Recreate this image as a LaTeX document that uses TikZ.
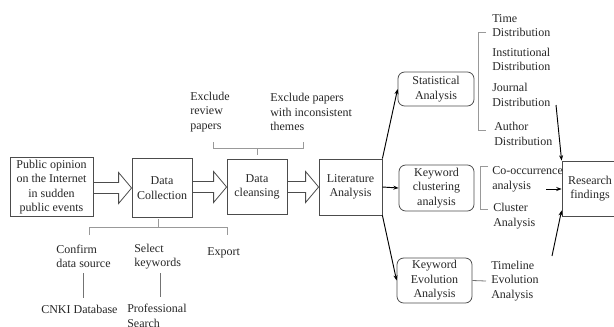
\documentclass[tikz,border=0pt]{standalone}
\usepackage{fontspec}
\setmainfont{Liberation Serif}
\usetikzlibrary{calc,arrows.meta}
\newcommand{\hollowarrow}[2]{%
  \draw[harrow] ($(#1.east |- #2.west)+(0,-5.5)$) -- ($(#2.west)+(-13,-5.5)$)
    -- ($(#2.west)+(-13,-15.5)$) -- (#2.west) -- ($(#2.west)+(-13,15.5)$)
    -- ($(#2.west)+(-13,5.5)$) -- ($(#1.east |- #2.west)+(0,5.5)$);}
\begin{document}
\begin{tikzpicture}[x=0.75pt,y=-0.75pt,
  every node/.style={font=\fontsize{9}{10.9}\selectfont, text=black!85},
  box/.style={draw=black!70, line width=0.6pt, align=center, inner sep=0pt},
  rbox/.style={box, rounded corners=5pt},
  lbl/.style={anchor=west, align=left, inner sep=0pt},
  brk/.style={draw=black!40, line width=0.6pt},
  thin line/.style={draw=black!55, line width=0.6pt},
  conn/.style={draw=black, line width=0.7pt, -{Stealth[length=4pt,width=3pt]}},
  harrow/.style={draw=black!70, line width=0.6pt, line join=miter}
]
\useasboundingbox (0,0) rectangle (614,326);

% main boxes
\node[box, minimum width=62.25pt, minimum height=44.25pt] (b1) at (51.5,187)
  {Public opinion\\on the Internet\\in sudden\\public events};
\node[box, minimum width=45pt, minimum height=44.25pt] (b2) at (162,188) {Data\\Collection};
\node[box, minimum width=45pt, minimum height=41.25pt] (b3) at (257,187) {Data\\cleansing};
\node[box, minimum width=47.25pt, minimum height=42pt] (b4) at (350.5,187) {Literature\\Analysis};

\node[rbox, minimum width=57pt, minimum height=25.5pt] (stat) at (436,89) {Statistical\\Analysis};
\node[rbox, minimum width=56.25pt, minimum height=34.5pt] (kc) at (436.5,188) {Keyword\\clustering\\analysis};
\node[rbox, minimum width=56.25pt, minimum height=33.75pt] (ke) at (434.5,280.5) {Keyword\\Evolution\\Analysis};

\node[box, minimum width=42pt, minimum height=41.25pt] (rf) at (590,188.5) {Research\\findings};

% hollow arrows
\hollowarrow{b1}{b2}
\hollowarrow{b2}{b3}
\hollowarrow{b3}{b4}

% connectors from literature analysis
\draw[conn] (b4.north east) -- (stat.west);
\draw[conn] (b4.east) -- (kc.west);
\draw[conn] (b4.south east) -- (ke.west);

% labels above data cleansing
\node[lbl] (ex1) at (190,112) {Exclude\\review\\papers};
\node[lbl] (ex2) at (270,112) {Exclude papers\\with inconsistent\\themes};
\draw[brk] (213,142) -- (213,148) -- (303,148) -- (303,142);
\draw[brk] (257,148) -- (257,155);

% labels below data collection
\draw[brk] (89,235) -- (89,227) -- (227,227) -- (227,235);
\draw[brk] (158,219) -- (158,227);
\node[lbl] (conf) at (56,256.5) {Confirm\\data source};
\node[lbl] (sel) at (134,256.5) {Select\\keywords};
\node[lbl] (exp) at (207,253) {Export};
\node[lbl] (cnki) at (41,309) {CNKI Database};
\node[lbl] (prof) at (127,316) {Professional\\Search};
\draw[thin line] (83,273) -- (83,298);
\draw[thin line] (160,273) -- (160,297);

% statistical analysis details
\node[lbl] (t1) at (492,25.5) {Time\\Distribution};
\node[lbl] (t2) at (492,59.5) {Institutional\\Distribution};
\node[lbl] (t3) at (492,95) {Journal\\Distribution};
\node[lbl] (t4) at (494,134) {Author\\Distribution};
\draw[brk] (486,32) -- (478,32) -- (478,130) -- (486,130);

% keyword clustering details
\node[lbl] (c1) at (492,179.5) {Co-occurrence\\analysis};
\node[lbl] (c2) at (493,216) {Cluster\\Analysis};
\draw[brk] (488,166) -- (480,166) -- (480,209) -- (488,209);

% keyword evolution details
\node[lbl] (tl) at (491,281) {Timeline\\Evolution\\Analysis};
\draw[thin line] (ke.east) -- (486,281);

% arrows to research findings
\coordinate (s1) at (556,105);
\coordinate (s2) at (546,189);
\coordinate (s3) at (552,256);
\draw[conn] (s1) -- (rf.north west);
\draw[conn] (s2) -- (s2 -| rf.west);
\draw[conn] (s3) -- ($(rf.south west)+(0,-6)$);
\end{tikzpicture}
\end{document}
